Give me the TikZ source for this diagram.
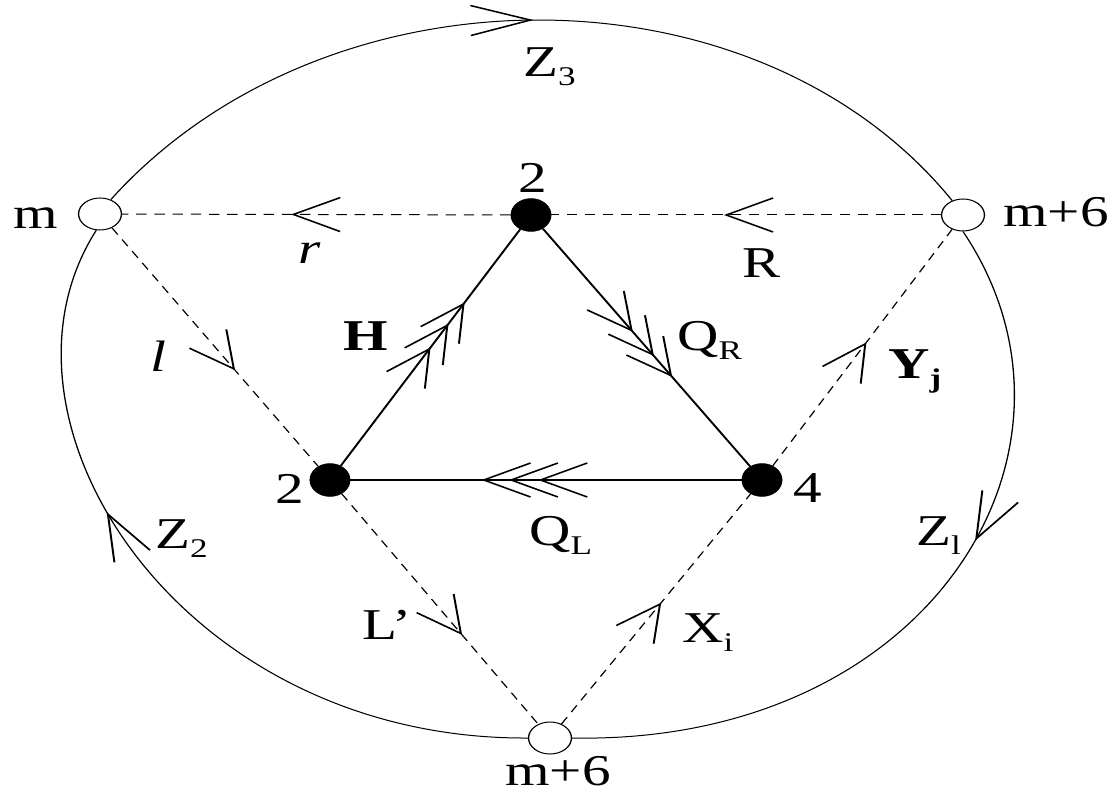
\documentclass[tikz,border=0pt]{standalone}
\usepackage{fontspec}
\setmainfont{Liberation Serif}
\usetikzlibrary{arrows.meta,decorations.markings,shapes.geometric}
\newcommand{\sub}[1]{\raisebox{-9pt}{\fontsize{27pt}{27pt}\selectfont #1}}
\newcommand{\barbtip}{\arrow{Straight Barb[length=36pt,width=34pt,line width=1.5pt]}}
\newcommand{\rimtip}{\arrow{Straight Barb[length=46pt,width=30pt,line width=1.5pt]}}
\begin{document}
\begin{tikzpicture}[x=1pt,y=-1pt]
\useasboundingbox[fill=white] (0,0) rectangle (1113,794);
\begin{scope}[x=0.769231pt, y=-1pt, transform canvas={xscale=1.3},
  wnode/.style={ellipse, draw, fill=white, line width=1pt, minimum width=33pt, minimum height=32pt, inner sep=0pt},
  bnode/.style={ellipse, draw, fill=black, minimum width=31pt, minimum height=33pt, inner sep=0pt},
  lab/.style={anchor=base west, inner sep=0pt, font=\fontsize{44pt}{44pt}\selectfont},
  rim/.style={line width=1pt},
  dline/.style={line width=1pt, dash pattern=on 8pt off 6pt},
  triedge/.style={line width=1.6pt},
  amark/.style={postaction={decorate, solid}, decoration={markings, mark=at position #1 with {\barbtip}}},
  emark/.style={postaction={decorate, solid}, decoration={markings, mark=at position #1 with {\rimtip}}},
  marks3/.style n args={3}{postaction={decorate, solid}, decoration={markings,
     mark=at position #1 with {\barbtip}, mark=at position #2 with {\barbtip}, mark=at position #3 with {\barbtip}}}]
% vertices
\node[wnode] (m) at (100,214) {};
\node[wnode] (M6) at (963,215) {};
\node[wnode] (B) at (550,738) {};
\node[bnode] (T) at (531,215) {};
\node[bnode] (L) at (330,480) {};
\node[bnode] (F) at (762,480) {};
% outer curve
\draw[rim, emark=0.5] (m.60) .. controls (327,-40) and (756,-40) .. (M6.120);
\draw[rim, emark=0.45] (M6.-90) .. controls (1110,450) and (930,745) .. (B.0);
\draw[rim, emark=0.59] (B.180) .. controls (180,740) and (-25,420) .. (m.-100);
% dashed edges
\draw[dline, amark=0.565] (T) -- (m);
\draw[dline, amark=0.557] (M6) -- (T);
\draw[dline, amark=0.597] (m) -- (L);
\draw[dline, amark=0.613] (L) -- (B);
\draw[dline, amark=0.527] (B) -- (F);
\draw[dline, amark=0.522] (F) -- (M6);
% triangle
\draw[triedge, marks3={0.5}{0.6}{0.69}] (L) -- (T);
\draw[triedge, marks3={0.434}{0.536}{0.624}] (T) -- (F);
\draw[triedge, marks3={0.52}{0.595}{0.665}] (F) -- (L);
% labels
\node[lab] (lm) at (13,229) {m};
\node[lab] (lm6) at (1003,227) {m+6};
\node[lab] (lb6) at (505,785) {m+6};
\node[lab] (l2t) at (518,193) {2};
\node[lab] (l2l) at (275,503) {2};
\node[lab] (l4) at (793,502) {4};
\node[lab] (lH) at (343,350) {\bfseries H};
\node[lab] (lQR) at (677,350) {Q\sub{R}};
\node[lab] (lQL) at (529,545) {Q\sub{L}};
\node[lab] (lr) at (298,263) {\itshape r};
\node[lab] (lR) at (742,277) {R};
\node[lab] (ll) at (150,371) {\itshape l};
\node[lab] (lY) at (888,378) {\bfseries Y\sub{j}};
\node[lab] (lZ2) at (155,548) {Z\sub{2}};
\node[lab] (lZ1) at (916,545) {Z\sub{l}};
\node[lab] (lZ3) at (523,77) {Z\sub{3}};
\node[lab] (lL) at (362,639) {L’};
\node[lab] (lX) at (682,642) {X\sub{i}};
\end{scope}
\end{tikzpicture}
\end{document}
